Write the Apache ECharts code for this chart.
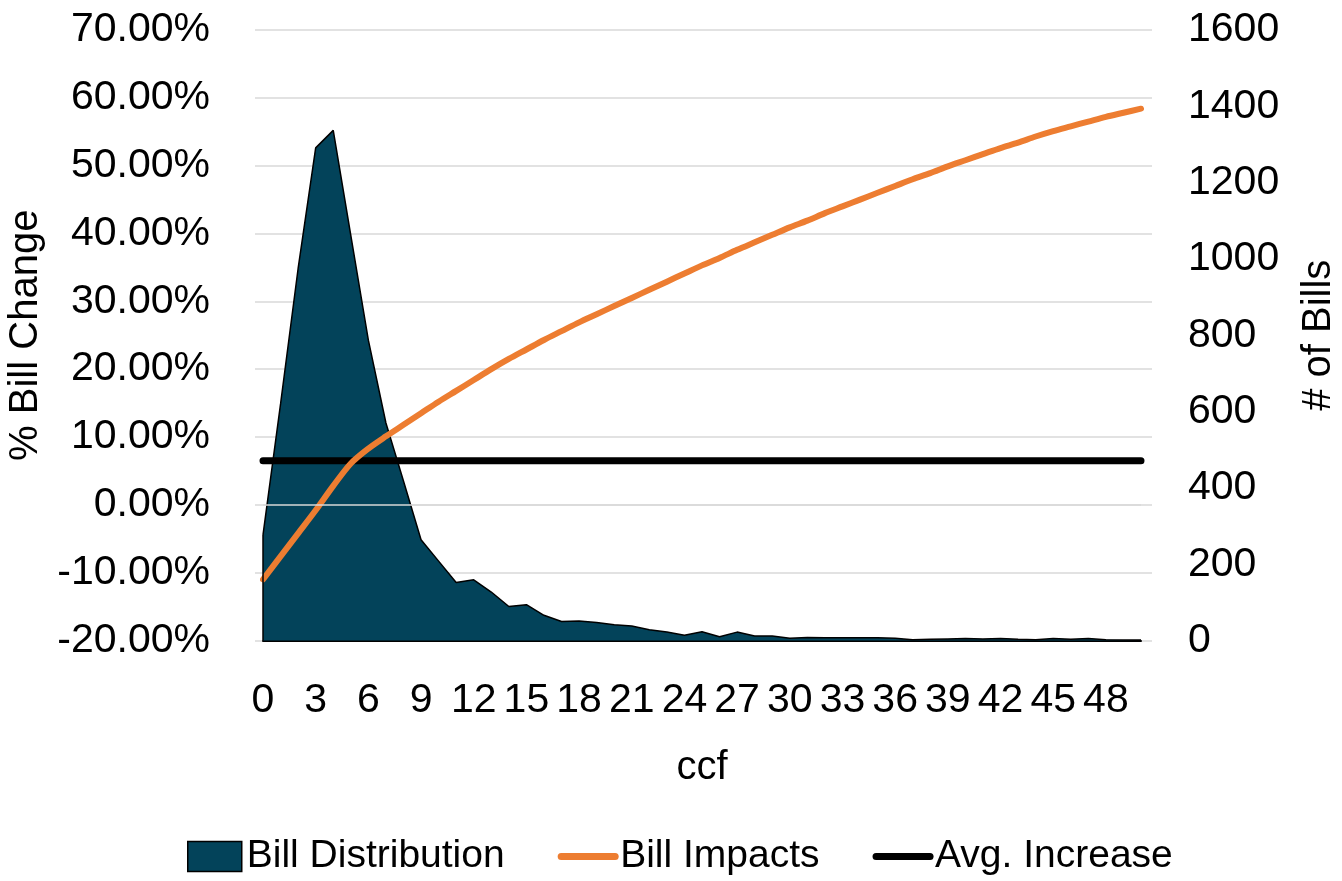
<!DOCTYPE html>
<html>
<head>
<meta charset="utf-8">
<script src="https://cdn.jsdelivr.net/npm/echarts@6/dist/echarts.min.js"></script>
<style>
html,body{margin:0;padding:0;background:#fff;}
#chart{width:1342px;height:881px;}
</style>
</head>
<body>
<div id="chart"></div>
<script>
// ccf categories 0..50
const categories = [];
for (let i = 0; i <= 50; i++) categories.push(String(i));

// # of Bills (right axis)
const billDistribution = [
  277, 620, 975, 1291, 1337, 1062, 787, 570, 418, 264,
  208, 152, 159, 127, 89, 94, 66, 50, 51, 47,
  41, 38, 28, 22, 14, 23, 10, 22, 12, 12,
  6, 8, 7, 7, 7, 7, 6, 2, 3, 4,
  5, 4, 5, 3, 2, 5, 3, 5, 2, 1, 1
];

// % Bill Change (left axis)
const billImpacts = [
  -11.0, -7.6, -4.2, -0.8, 2.8, 6.1, 8.3, 10.1, 11.8, 13.5,
  15.2, 16.8, 18.4, 20.0, 21.5, 22.9, 24.3, 25.6, 26.9, 28.1,
  29.3, 30.5, 31.7, 32.9, 34.1, 35.3, 36.4, 37.6, 38.7, 39.8,
  40.9, 41.9, 43.0, 44.0, 45.0, 46.0, 47.0, 48.0, 48.9, 49.9,
  50.8, 51.7, 52.6, 53.4, 54.3, 55.1, 55.8, 56.5, 57.2, 57.8, 58.4
];

// Avg. Increase (left axis)
const avgIncrease = [
  6.5, 6.5, 6.5, 6.5, 6.5, 6.5, 6.5, 6.5, 6.5, 6.5,
  6.5, 6.5, 6.5, 6.5, 6.5, 6.5, 6.5, 6.5, 6.5, 6.5,
  6.5, 6.5, 6.5, 6.5, 6.5, 6.5, 6.5, 6.5, 6.5, 6.5,
  6.5, 6.5, 6.5, 6.5, 6.5, 6.5, 6.5, 6.5, 6.5, 6.5,
  6.5, 6.5, 6.5, 6.5, 6.5, 6.5, 6.5, 6.5, 6.5, 6.5, 6.5
];

const FONT = "'Liberation Sans', Arial, sans-serif";
const FS_TICK = 41;
const FS_NAME = 40;
const FS_LEGEND = 39;
const GRID_COLOR = '#D9D9D9';
const AREA_COLOR = '#03435A';
const ORANGE = '#ED7D31';

const chart = echarts.init(document.getElementById('chart'), null, {renderer: 'canvas'});

const option = {
  animation: false,
  backgroundColor: '#ffffff',
  textStyle: {fontFamily: FONT, color: '#000'},
  grid: [
    {left: 263, right: 201, top: 30, bottom: 240.5, containLabel: false, outerBoundsMode: 'none'},
    {left: 255, right: 190, top: 30, bottom: 240.5, containLabel: false, outerBoundsMode: 'none'}
  ],
  legend: {
    bottom: 0,
    left: 182,
    itemWidth: 54,
    itemHeight: 30,
    itemGap: 53,
    textStyle: {fontFamily: FONT, fontSize: FS_LEGEND, color: '#000'},
    data: [
      {name: 'Bill Distribution', icon: 'rect', itemStyle: {color: AREA_COLOR, borderColor: '#000', borderWidth: 1.5}},
      {name: 'Bill Impacts', itemStyle: {opacity: 0}, lineStyle: {color: ORANGE, width: 7, cap: 'round'}},
      {name: 'Avg. Increase', itemStyle: {opacity: 0}, lineStyle: {color: '#000', width: 7, cap: 'round'}}
    ]
  },
  xAxis: [
    {
      type: 'category',
      gridIndex: 0,
      data: categories,
      boundaryGap: false,
      name: 'ccf',
      nameLocation: 'middle',
      nameGap: 107,
      nameTextStyle: {fontFamily: FONT, fontSize: FS_NAME, color: '#000'},
      axisLine: {show: true, onZero: false, lineStyle: {color: '#000', width: 2}},
      axisTick: {show: false},
      axisLabel: {interval: 2, margin: 40, hideOverlap: false, fontFamily: FONT, fontSize: FS_TICK, color: '#000'},
      splitLine: {show: false}
    },
    {
      type: 'value', gridIndex: 1, min: 0, max: 1, show: false
    }
  ],
  yAxis: [
    {
      type: 'value',
      gridIndex: 0,
      position: 'left',
      min: -20, max: 70, interval: 10,
      name: '% Bill Change',
      nameLocation: 'middle',
      nameRotate: 90,
      nameGap: 208,
      nameTextStyle: {fontFamily: FONT, fontSize: FS_NAME, color: '#000'},
      axisLine: {show: false},
      axisTick: {show: false},
      axisLabel: {margin: 53, fontFamily: FONT, fontSize: FS_TICK, color: '#000',
        formatter: v => v.toFixed(2) + '%'},
      splitLine: {show: false}
    },
    {
      type: 'value',
      gridIndex: 0,
      position: 'right',
      min: 0, max: 1600, interval: 200,
      name: '# of Bills',
      nameLocation: 'middle',
      nameRotate: 90,
      nameGap: 158,
      nameTextStyle: {fontFamily: FONT, fontSize: FS_NAME, color: '#000'},
      axisLine: {show: false},
      axisTick: {show: false},
      axisLabel: {margin: 47, fontFamily: FONT, fontSize: FS_TICK, color: '#000',
        formatter: v => String(v)},
      splitLine: {show: false}
    },
    {
      type: 'value',
      gridIndex: 1,
      min: -20, max: 70, interval: 10,
      axisLine: {show: false},
      axisTick: {show: false},
      axisLabel: {show: false},
      splitLine: {show: true, lineStyle: {color: GRID_COLOR, width: 1.5}}
    }
  ],
  series: [
    {
      name: 'Bill Distribution',
      type: 'line',
      xAxisIndex: 0,
      yAxisIndex: 1,
      data: billDistribution,
      symbol: 'none',
      z: 2,
      lineStyle: {color: '#000', width: 1.5},
      itemStyle: {color: AREA_COLOR},
      areaStyle: {color: AREA_COLOR, opacity: 1},
      markLine: {
        silent: true,
        symbol: 'none',
        label: {show: false},
        lineStyle: {color: '#000', width: 1.5, type: 'solid'},
        data: [[
          {coord: [categories[0], 0]},
          {coord: [categories[0], billDistribution[0]]}
        ]]
      }
    },
    {
      name: 'Avg. Increase',
      type: 'line',
      xAxisIndex: 0,
      yAxisIndex: 0,
      data: avgIncrease,
      symbol: 'none',
      z: 3,
      lineStyle: {color: '#000', width: 7, cap: 'round'},
      itemStyle: {color: '#000'},
      markLine: {
        silent: true,
        symbol: 'none',
        label: {show: false},
        lineStyle: {color: GRID_COLOR, width: 1.5, type: 'solid'},
        data: [{yAxis: 0}]
      }
    },
    {
      name: 'Bill Impacts',
      type: 'line',
      xAxisIndex: 0,
      yAxisIndex: 0,
      data: billImpacts,
      symbol: 'none',
      smooth: 0.3,
      z: 4,
      lineStyle: {color: ORANGE, width: 6, cap: 'round'},
      itemStyle: {color: ORANGE}
    }
  ]
};

chart.setOption(option);
</script>
</body>
</html>
